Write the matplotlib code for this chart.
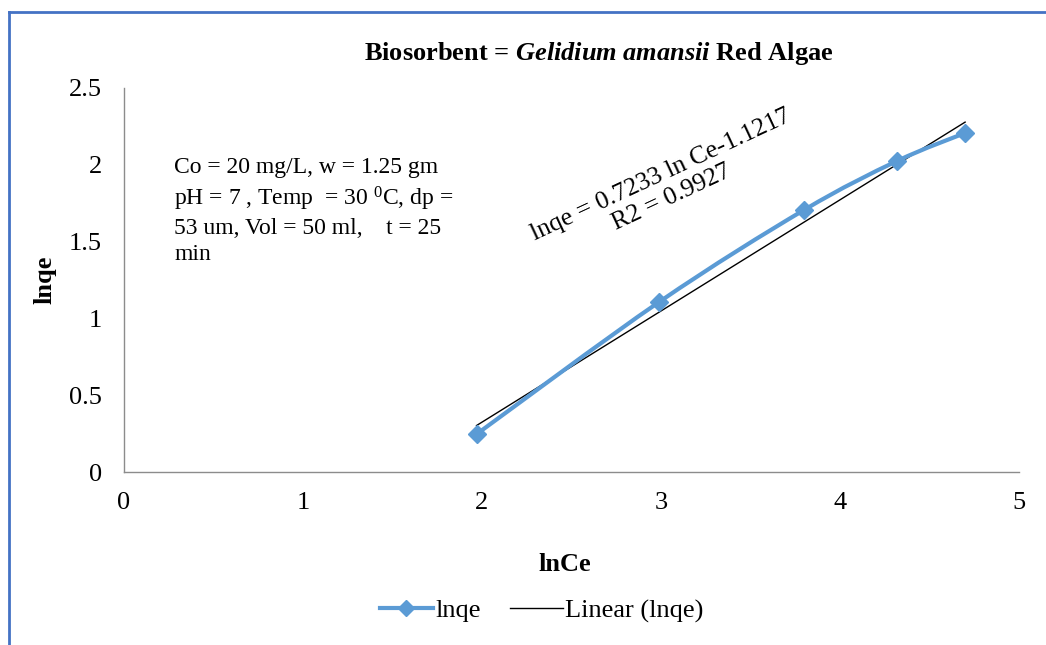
import numpy as np
import matplotlib
matplotlib.use("Agg")
import matplotlib.pyplot as plt
from matplotlib.path import Path
from matplotlib.patches import PathPatch
from matplotlib.lines import Line2D

# data
ln_ce = [1.97, 2.99, 3.80, 4.32, 4.70]
ln_qe = [0.247, 1.107, 1.706, 2.025, 2.207]
slope = 0.7233
intercept = -1.1217
x_ticks = [0, 1, 2, 3, 4, 5]
y_ticks = [0, 0.5, 1, 1.5, 2, 2.5]

BLUE = '#5B9BD5'
plt.rcParams['font.family'] = ['Liberation Serif', 'DejaVu Serif']
plt.rcParams['mathtext.fontset'] = 'custom'
plt.rcParams['mathtext.rm'] = 'Liberation Serif'
plt.rcParams['mathtext.it'] = 'Liberation Serif:italic'
plt.rcParams['mathtext.bf'] = 'Liberation Serif:bold'
plt.rcParams['mathtext.bfit'] = 'Liberation Serif:bold:italic'

fig = plt.figure(figsize=(10.46, 6.45), dpi=100)
ax = fig.add_axes([0.1185, 0.268, 0.8555, 0.5956])


def smooth_path(xs, ys, t=1/6):
    # Excel-like smoothed line: Catmull-Rom converted to cubic Bezier segments
    pts = np.column_stack([xs, ys])
    verts = [pts[0]]
    codes = [Path.MOVETO]
    n = len(pts)
    for i in range(n - 1):
        p0 = pts[max(i - 1, 0)]
        p1 = pts[i]
        p2 = pts[i + 1]
        p3 = pts[min(i + 2, n - 1)]
        c1 = p1 + (p2 - p0) * t
        c2 = p2 - (p3 - p1) * t
        verts += [c1, c2, p2]
        codes += [Path.CURVE4] * 3
    return Path(verts, codes)


ax.add_patch(PathPatch(smooth_path(ln_ce, ln_qe), fill=False,
                       edgecolor=BLUE, linewidth=3, zorder=3))
ax.plot(ln_ce, ln_qe, linestyle='none', marker='D', markersize=9,
        color=BLUE, zorder=4)

xfit = np.array([min(ln_ce), max(ln_ce)])
ax.plot(xfit, slope * xfit + intercept, color='black', linewidth=1, zorder=2)

ax.set_xlim(0, 5)
ax.set_ylim(0, 2.5)
ax.set_xticks(x_ticks)
ax.set_yticks(y_ticks)
ax.set_xticklabels([str(v) for v in x_ticks])
ax.set_yticklabels(['0', '0.5', '1', '1.5', '2', '2.5'])
ax.tick_params(length=0, labelsize=19)
ax.tick_params(axis='y', pad=16)
ax.tick_params(axis='x', pad=14)
for side in ['top', 'right']:
    ax.spines[side].set_visible(False)
for side in ['left', 'bottom']:
    ax.spines[side].set_color('#8c8c8c')
    ax.spines[side].set_linewidth(1)

ax.set_xlabel('lnCe', fontsize=19, fontweight='bold')
ax.xaxis.set_label_coords(0.493, -0.21)
ax.set_ylabel('lnqe', fontsize=19, fontweight='bold')
ax.yaxis.set_label_coords(-0.075, 0.5)

fig.text(0.572, 0.917, r'Biosorbent = $\mathbfit{Gelidium\ amansii}$ Red Algae',
         ha='center', va='center', fontsize=19, fontweight='bold')

ax.text(0.056, 0.82,
        'Co = 20 mg/L, w = 1.25 gm\n'
        'pH = 7 , Temp  = 30 $^{0}$C, dp =\n'
        '53 um, Vol = 50 ml,    t = 25\n'
        'min',
        transform=ax.transAxes, ha='left', va='top', fontsize=17,
        linespacing=1.32)

ax.text(3.03, 1.86, 'lnqe = 0.7233 ln Ce-1.1217\nR2 = 0.9927',
        ha='center', va='center', rotation=25, rotation_mode='anchor',
        multialignment='center', fontsize=18.5, linespacing=1.15)

handles = [Line2D([], [], color=BLUE, linewidth=3, marker='D', markersize=8),
           Line2D([], [], color='black', linewidth=1)]
fig.legend(handles, ['lnqe', 'Linear (lnqe)'], loc='center',
           bbox_to_anchor=(0.518, 0.053), ncol=2, frameon=False, fontsize=19,
           handlelength=2.0, handletextpad=0.1, columnspacing=1.1)

# chart border (blue, only top and left visible)
bx = 9 / 1046
by = 1 - 12 / 645
fig.add_artist(Line2D([bx, 1], [by, by], color='#4472C4', linewidth=2,
                      transform=fig.transFigure))
fig.add_artist(Line2D([bx, bx], [0, by], color='#4472C4', linewidth=2,
                      transform=fig.transFigure))

fig.savefig('out.png', dpi=100)
